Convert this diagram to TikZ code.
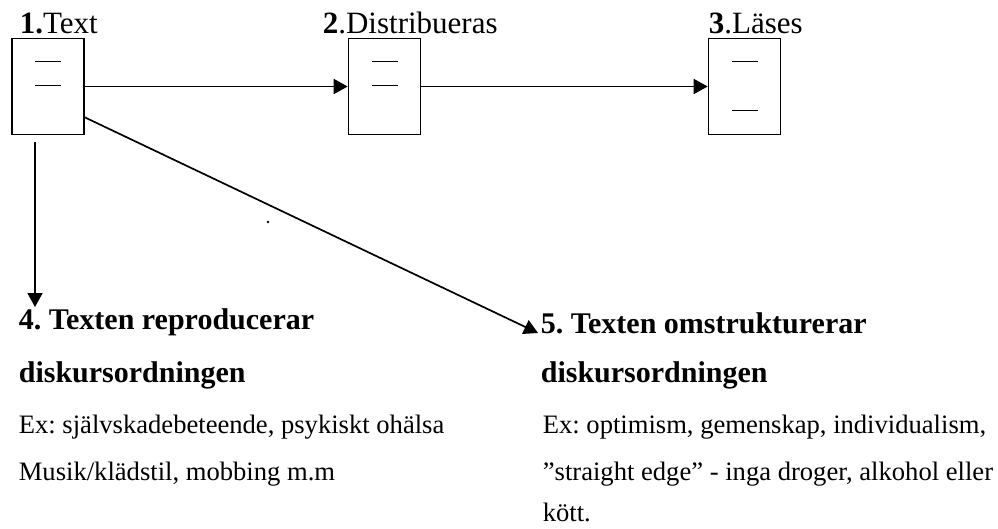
\documentclass[tikz,border=0pt]{standalone}
\usepackage{fontspec}
\setmainfont{Liberation Serif}
\usetikzlibrary{arrows.meta}
\frenchspacing
\begin{document}
\begin{tikzpicture}[
	x=1pt, y=-1pt,
	line width=1.7pt
]
\tikzset{
    docbox/.style = {rectangle, draw=black, minimum width=72pt, minimum height=96pt, inner sep=0pt},
    stroke/.style = {-, line width=1.5pt},
    arr/.style = {-{Triangle[length=14pt,width=15pt]}},
    lbl/.style = {anchor=base west, inner sep=0pt, font=\fontsize{31}{36}\selectfont},
    head/.style = {anchor=base west, inner sep=0pt, font=\fontsize{30}{36}\selectfont\bfseries},
    body/.style = {anchor=base west, inner sep=0pt, font=\fontsize{26.6}{32}\selectfont},
}
\useasboundingbox (0,0) rectangle (998,528);
% the three documents
\node[docbox] at (48,86.5) (box1) {};
\node[docbox] at (384.5,86.5) (box2) {};
\node[docbox] at (744.5,86.5) (box3) {};
\node[lbl] at (19,33) (lbl1) {\textbf{1.}Text};
\node[lbl] at (322,33) (lbl2) {\textbf{2}.Distribueras};
\node[lbl] at (708,33) (lbl3) {\textbf{3}.Läses};
%
\draw[stroke] ([xshift=-13pt,yshift=-24pt]box1.north) -- ++(26,0);
\draw[stroke] ([xshift=-13pt,yshift=-48pt]box1.north) -- ++(26,0);
\draw[stroke] ([xshift=-13pt,yshift=-24pt]box2.north) -- ++(26,0);
\draw[stroke] ([xshift=-13pt,yshift=-48pt]box2.north) -- ++(26,0);
\draw[stroke] ([xshift=-13pt,yshift=-24pt]box3.north) -- ++(26,0);
\draw[stroke] ([xshift=-13pt,yshift=-73pt]box3.north) -- ++(26,0);
%
\draw[arr] (box1) -- (box2);
\draw[arr] (box2) -- (box3);
% the two outcomes
\node[head] at (18,329) (h4a) {4. Texten reproducerar};
\node[head] at (18,382) (h4b) {diskursordningen};
\node[body] at (18,433) (ex4a) {Ex: självskadebeteende, psykiskt ohälsa};
\node[body] at (18,480) (ex4b) {Musik/klädstil, mobbing m.m};
%
\node[head] at (540,333) (h5a) {5. Texten omstrukturerar};
\node[head] at (540,382) (h5b) {diskursordningen};
\node[body] at (542,433) (ex5a) {Ex: optimism, gemenskap, individualism,};
\node[body] at (542,480) (ex5b) {”straight edge” - inga droger, alkohol eller};
\node[body] at (542,521) (ex5c) {kött.};
%
\coordinate (vtop) at (35,142);
\coordinate (vtip) at (35,307);
\draw[arr] (vtop) -- (vtip);
\draw[arr] ([yshift=18pt]box1.south east) -- ([xshift=-2pt]h5a.base west);
\fill (268,222) circle (1.3pt);
\end{tikzpicture}
\end{document}
